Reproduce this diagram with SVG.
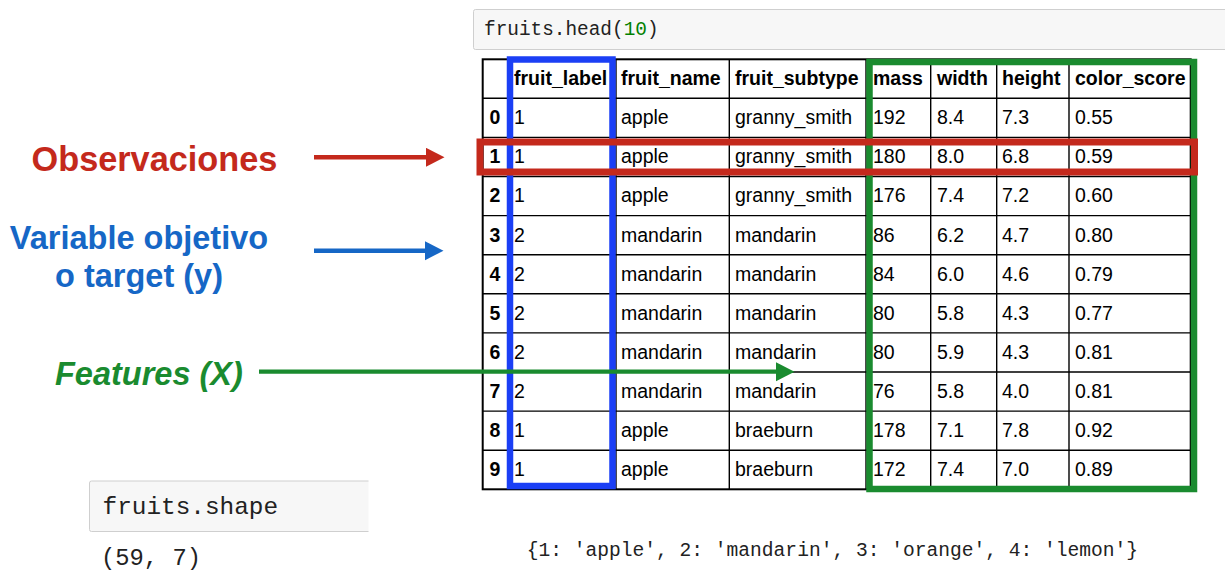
<svg xmlns="http://www.w3.org/2000/svg" width="1225" height="588" viewBox="0 0 1225 588">
<style>
.mono{font-family:"Liberation Mono","DejaVu Sans Mono",monospace;fill:#222}
.th{font-family:"Liberation Sans",Arial,sans-serif;font-size:19.5px;font-weight:bold;fill:#000}
.td{font-family:"Liberation Sans",Arial,sans-serif;font-size:19.5px;fill:#000}
.idx{font-family:"Liberation Sans",Arial,sans-serif;font-size:19.5px;font-weight:bold;fill:#000;text-anchor:middle}
.grid{stroke:#000;stroke-width:1.4;fill:none}
.lbl{font-family:"Liberation Sans",Arial,sans-serif;font-weight:bold;font-size:32.5px}
</style>
<defs>
<marker id="ahR" markerUnits="userSpaceOnUse" markerWidth="20" markerHeight="20" refX="1" refY="9.5" orient="auto"><path d="M0,0 L18.5,9.5 L0,19 z" fill="#c4291c"/></marker>
<marker id="ahB" markerUnits="userSpaceOnUse" markerWidth="20" markerHeight="20" refX="1" refY="9.5" orient="auto"><path d="M0,0 L18.5,9.5 L0,19 z" fill="#1667c6"/></marker>
<marker id="ahG" markerUnits="userSpaceOnUse" markerWidth="20" markerHeight="20" refX="1" refY="9.5" orient="auto"><path d="M0,0 L18.5,9.5 L0,19 z" fill="#1a8b2f"/></marker>
</defs>
<rect width="1225" height="588" fill="#fff"/>

<g id="code-head">
<rect x="473.5" y="9.5" width="770" height="40" rx="2" fill="#f7f7f7" stroke="#cfcfcf" stroke-width="1"/>
<text class="mono" x="484" y="34.5" font-size="19.4" fill="#333">fruits.head(<tspan fill="#008000">10</tspan>)</text>
</g>

<g id="table">
<rect x="482.7" y="59.3" width="708" height="430" fill="#fff" stroke="#000" stroke-width="2"/>
<path class="grid" d="M508,59.3V489.3 M616,59.3V489.3 M729.3,59.3V489.3 M866,59.3V489.3 M930.7,59.3V489.3 M996.7,59.3V489.3 M1069,59.3V489.3 M482.7,98.3H1190.7 M482.7,137.4H1190.7 M482.7,176.5H1190.7 M482.7,215.6H1190.7 M482.7,254.7H1190.7 M482.7,293.8H1190.7 M482.7,332.9H1190.7 M482.7,372H1190.7 M482.7,411.1H1190.7 M482.7,450.2H1190.7"/>
<g id="header">
<text class="th" x="514" y="85.3">fruit_label</text>
<text class="th" x="621" y="85.3">fruit_name</text>
<text class="th" x="735" y="85.3">fruit_subtype</text>
<text class="th" x="873" y="85.3">mass</text>
<text class="th" x="937" y="85.3">width</text>
<text class="th" x="1002" y="85.3">height</text>
<text class="th" x="1075" y="85.3">color_score</text>
</g>
<g id="row0"><text class="idx" x="495" y="124.2">0</text><text class="td" x="514" y="124.2">1</text><text class="td" x="621" y="124.2">apple</text><text class="td" x="735" y="124.2">granny_smith</text><text class="td" x="873" y="124.2">192</text><text class="td" x="937" y="124.2">8.4</text><text class="td" x="1002" y="124.2">7.3</text><text class="td" x="1075" y="124.2">0.55</text></g>
<g id="row1"><text class="idx" x="495" y="163.3">1</text><text class="td" x="514" y="163.3">1</text><text class="td" x="621" y="163.3">apple</text><text class="td" x="735" y="163.3">granny_smith</text><text class="td" x="873" y="163.3">180</text><text class="td" x="937" y="163.3">8.0</text><text class="td" x="1002" y="163.3">6.8</text><text class="td" x="1075" y="163.3">0.59</text></g>
<g id="row2"><text class="idx" x="495" y="202.4">2</text><text class="td" x="514" y="202.4">1</text><text class="td" x="621" y="202.4">apple</text><text class="td" x="735" y="202.4">granny_smith</text><text class="td" x="873" y="202.4">176</text><text class="td" x="937" y="202.4">7.4</text><text class="td" x="1002" y="202.4">7.2</text><text class="td" x="1075" y="202.4">0.60</text></g>
<g id="row3"><text class="idx" x="495" y="241.5">3</text><text class="td" x="514" y="241.5">2</text><text class="td" x="621" y="241.5">mandarin</text><text class="td" x="735" y="241.5">mandarin</text><text class="td" x="873" y="241.5">86</text><text class="td" x="937" y="241.5">6.2</text><text class="td" x="1002" y="241.5">4.7</text><text class="td" x="1075" y="241.5">0.80</text></g>
<g id="row4"><text class="idx" x="495" y="280.6">4</text><text class="td" x="514" y="280.6">2</text><text class="td" x="621" y="280.6">mandarin</text><text class="td" x="735" y="280.6">mandarin</text><text class="td" x="873" y="280.6">84</text><text class="td" x="937" y="280.6">6.0</text><text class="td" x="1002" y="280.6">4.6</text><text class="td" x="1075" y="280.6">0.79</text></g>
<g id="row5"><text class="idx" x="495" y="319.7">5</text><text class="td" x="514" y="319.7">2</text><text class="td" x="621" y="319.7">mandarin</text><text class="td" x="735" y="319.7">mandarin</text><text class="td" x="873" y="319.7">80</text><text class="td" x="937" y="319.7">5.8</text><text class="td" x="1002" y="319.7">4.3</text><text class="td" x="1075" y="319.7">0.77</text></g>
<g id="row6"><text class="idx" x="495" y="358.8">6</text><text class="td" x="514" y="358.8">2</text><text class="td" x="621" y="358.8">mandarin</text><text class="td" x="735" y="358.8">mandarin</text><text class="td" x="873" y="358.8">80</text><text class="td" x="937" y="358.8">5.9</text><text class="td" x="1002" y="358.8">4.3</text><text class="td" x="1075" y="358.8">0.81</text></g>
<g id="row7"><text class="idx" x="495" y="397.9">7</text><text class="td" x="514" y="397.9">2</text><text class="td" x="621" y="397.9">mandarin</text><text class="td" x="735" y="397.9">mandarin</text><text class="td" x="873" y="397.9">76</text><text class="td" x="937" y="397.9">5.8</text><text class="td" x="1002" y="397.9">4.0</text><text class="td" x="1075" y="397.9">0.81</text></g>
<g id="row8"><text class="idx" x="495" y="437">8</text><text class="td" x="514" y="437">1</text><text class="td" x="621" y="437">apple</text><text class="td" x="735" y="437">braeburn</text><text class="td" x="873" y="437">178</text><text class="td" x="937" y="437">7.1</text><text class="td" x="1002" y="437">7.8</text><text class="td" x="1075" y="437">0.92</text></g>
<g id="row9"><text class="idx" x="495" y="476.1">9</text><text class="td" x="514" y="476.1">1</text><text class="td" x="621" y="476.1">apple</text><text class="td" x="735" y="476.1">braeburn</text><text class="td" x="873" y="476.1">172</text><text class="td" x="937" y="476.1">7.4</text><text class="td" x="1002" y="476.1">7.0</text><text class="td" x="1075" y="476.1">0.89</text></g>
</g>

<g id="box-target"><rect x="510" y="59.5" width="102.5" height="426.5" fill="none" stroke="#1b3ff5" stroke-width="6.5"/></g>
<g id="box-features"><rect x="869.5" y="62" width="324.5" height="427" fill="none" stroke="#1a8b2f" stroke-width="6.5"/></g>
<g id="box-observation"><rect x="480" y="142" width="714.5" height="30" fill="none" stroke="#c4291c" stroke-width="7"/></g>

<g id="label-observaciones"><text class="lbl" x="31.5" y="170.5" style="font-size:34.3px" fill="#c4291c">Observaciones</text></g>
<g id="label-target"><text class="lbl" x="139" y="248.5" text-anchor="middle" fill="#1667c6">Variable objetivo</text><text class="lbl" x="139" y="287" text-anchor="middle" fill="#1667c6">o target (y)</text></g>
<g id="label-features"><text class="lbl" x="55" y="384.5" font-style="italic" fill="#1a8b2f">Features (X)</text></g>

<g id="connectors">
<line x1="314" y1="157.3" x2="427" y2="157.3" stroke="#c4291c" stroke-width="4.6" marker-end="url(#ahR)"/>
<line x1="314" y1="250.7" x2="426" y2="250.7" stroke="#1667c6" stroke-width="4.6" marker-end="url(#ahB)"/>
<line x1="259" y1="371.7" x2="777" y2="371.7" stroke="#1a8b2f" stroke-width="4.2" marker-end="url(#ahG)"/>
</g>

<g id="code-shape">
<rect x="89.5" y="481" width="279" height="50.5" fill="#f7f7f7"/>
<path d="M368.5,481H91.5Q89.5,481 89.5,483V529.5Q89.5,531.5 91.5,531.5H368.5" fill="none" stroke="#cfcfcf" stroke-width="1"/>
<text class="mono" x="102.5" y="513.5" font-size="24.4">fruits.shape</text>
</g>
<g id="output-shape"><text class="mono" x="101" y="564.5" font-size="23.8">(59, 7)</text></g>
<g id="output-dict"><text class="mono" x="526.7" y="556" font-size="19.6">{1: 'apple', 2: 'mandarin', 3: 'orange', 4: 'lemon'}</text></g>
</svg>
